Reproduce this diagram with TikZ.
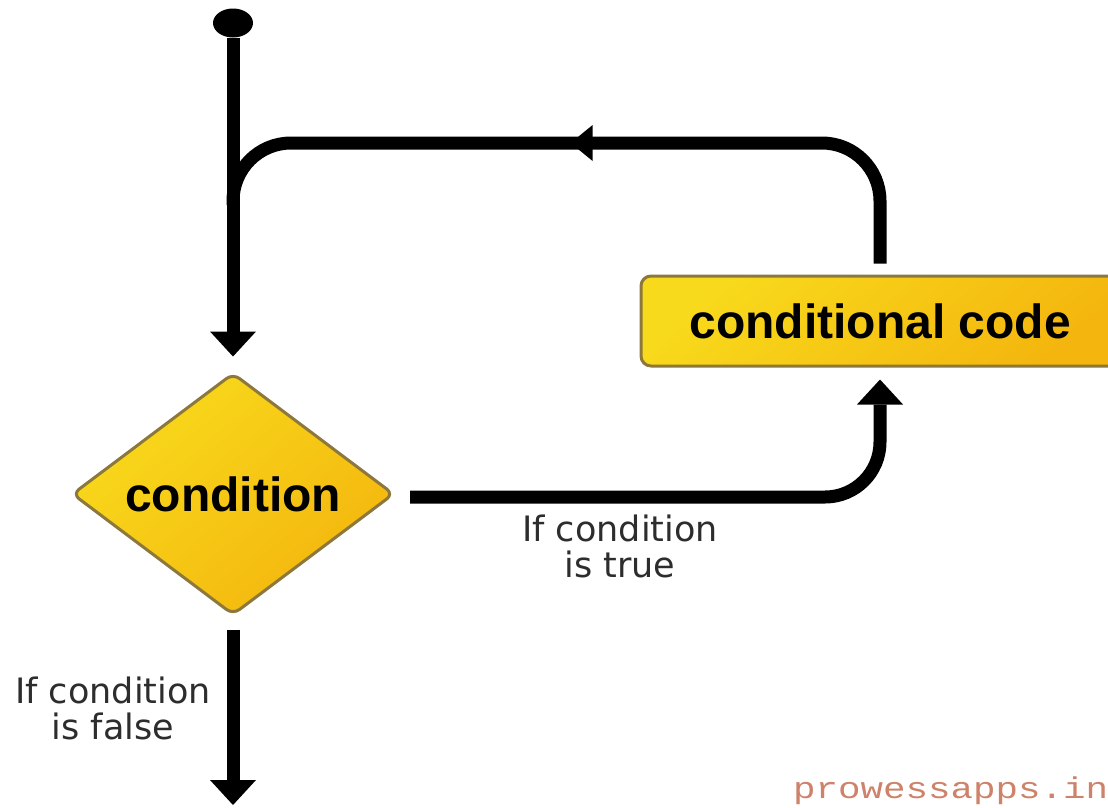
\documentclass[tikz,border=0pt]{standalone}
\usepackage{fontspec}
\usepackage{graphicx}
\setmainfont{DejaVu Sans}
\newfontfamily\boxfont{Liberation Sans}
\newfontfamily\wmfont{Liberation Mono}
\usetikzlibrary{arrows.meta,shapes.geometric,decorations.markings}
\definecolor{ytop}{RGB}{248,218,28}
\definecolor{ybot}{RGB}{244,182,14}
\definecolor{yedge}{RGB}{140,120,60}
\definecolor{wm}{RGB}{205,130,105}
\definecolor{lbl}{RGB}{45,45,45}
\begin{document}
\begin{tikzpicture}[x=1pt,y=-1pt,
  flow/.style={line width=13pt, draw=black},
  bigtip/.style={-{Triangle[length=25pt,width=46pt,line width=0pt]}},
  yellowshape/.style={draw=yedge, line width=3pt, top color=ytop, bottom color=ybot, shading angle=40, inner sep=0pt},
  boxtext/.style={font=\boxfont\bfseries\fontsize{48}{52}\selectfont, text=black},
  lbltext/.style={font=\fontsize{35}{36}\selectfont, text=lbl, align=center, inner sep=0pt},
]
\useasboundingbox (0,0) rectangle (1108,807);

% nodes
\node[ellipse, fill=black, minimum width=40pt, minimum height=29pt, inner sep=0pt] (start) at (233,23) {};
\node[diamond, aspect=1.33, yellowshape, boxtext, minimum width=322pt, minimum height=242pt, rounded corners=8pt] (cond) at (233,494) {condition};
\node[rectangle, rounded corners=10pt, yellowshape, boxtext, minimum width=478pt, minimum height=90pt] (box) at (880,321) {conditional code};

\node[lbltext] (ltrue) at (620,546) {If condition\\is true};
\node[lbltext] (lfalse) at (113,708) {If condition\\is false};
\node[anchor=base west, inner sep=0pt, text=wm, font=\wmfont\fontsize{30}{30}\selectfont] (wm) at (793,798) {\scalebox{1.25}[1]{prowessapps.in}};

% coordinates
\coordinate (tr) at (880,143);
\coordinate (tl) at (233,143);
\coordinate (join) at (233,205);
\coordinate (tstart) at (410,497);
\coordinate (tcorner) at (880,497);
\coordinate (end) at (233,805);

% connectors
\draw[flow, bigtip, shorten >=15pt] (start) -- (cond.north);
\draw[flow, rounded corners=58pt,
  postaction={decorate},
  decoration={markings, mark=at position 405pt with {\arrow{Triangle[length=22pt,width=36pt,line width=0pt]}}}]
  ([yshift=11pt]box.north) -- (tr) -- (tl) -- (join);
\draw[flow, bigtip, rounded corners=55pt, shorten >=12pt] (tstart) -- (tcorner) -- (box.south);
\draw[flow, bigtip] ([yshift=-13pt]cond.south) -- (end);
\end{tikzpicture}
\end{document}
